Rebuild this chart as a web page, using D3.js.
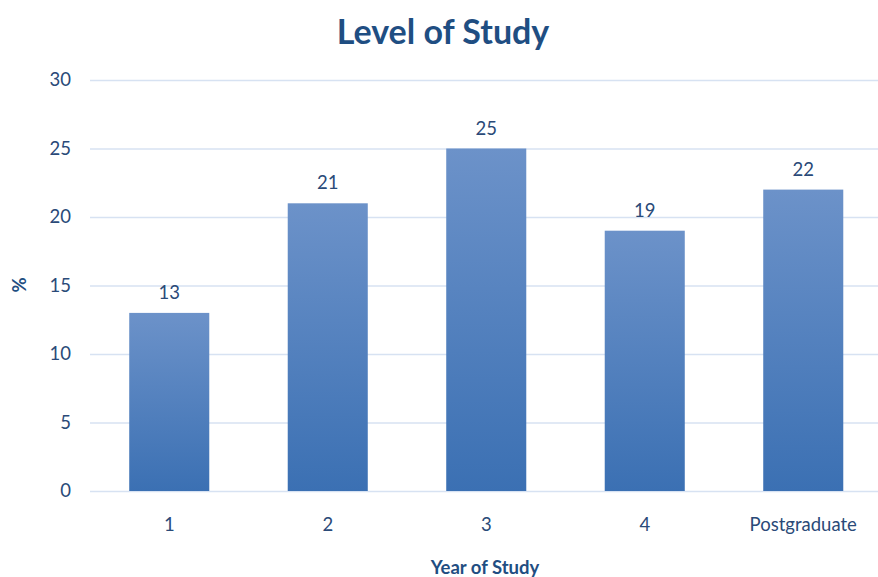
<!DOCTYPE html>
<html><head><meta charset="utf-8">
<script src="https://cdn.jsdelivr.net/npm/d3@7"></script>
<style>
html,body{margin:0;padding:0;background:#fff;}
text{font-family:Lato,"Open Sans",sans-serif;}
</style></head>
<body>
<svg id="chart" width="878" height="577"></svg>
<script>
const categories = ["1","2","3","4","Postgraduate"];
const values = [13,21,25,19,22];
const yTicks = [0,5,10,15,20,25,30];

const svg = d3.select("#chart");
const W = 878, H = 577;
const x = d3.scaleBand().domain(categories).range([90, 882.5]).paddingInner(0.495).paddingOuter(0.2475);
const y = d3.scaleLinear().domain([0,30]).range([491, 80]);

const defs = svg.append("defs");
const grad = defs.append("linearGradient").attr("id","barGrad").attr("x1",0).attr("y1",0).attr("x2",0).attr("y2",1);
grad.append("stop").attr("offset","0%").attr("stop-color","#6C92C9");
grad.append("stop").attr("offset","100%").attr("stop-color","#3B70B3");

const textColor = "#2A4A78";
const fs = 18.5;

// gridlines
svg.append("g").selectAll("line").data(yTicks).join("line")
  .attr("x1",90).attr("x2",W)
  .attr("y1",d=>y(d)+0.5).attr("y2",d=>y(d)+0.5)
  .attr("stroke","#D7E2F2").attr("stroke-width",1.5);

// y tick labels
svg.append("g").selectAll("text").data(yTicks).join("text")
  .attr("x",71).attr("y",d=>y(d)).attr("dy","0.35em")
  .attr("text-anchor","end").attr("font-size",fs).attr("fill",textColor)
  .text(d=>d);

// bars
svg.append("g").selectAll("rect").data(values).join("rect")
  .attr("x",(d,i)=>x(categories[i])).attr("width",x.bandwidth())
  .attr("y",d=>y(d)).attr("height",d=>y(0)-y(d))
  .attr("fill","url(#barGrad)");

// value labels
svg.append("g").selectAll("text").data(values).join("text")
  .attr("x",(d,i)=>x(categories[i])+x.bandwidth()/2).attr("y",d=>y(d)-14)
  .attr("text-anchor","middle").attr("font-size",fs).attr("fill",textColor)
  .text(d=>d);

// x tick labels
svg.append("g").selectAll("text").data(categories).join("text")
  .attr("x",d=>x(d)+x.bandwidth()/2).attr("y",531)
  .attr("text-anchor","middle").attr("font-size",fs).attr("fill",textColor)
  .text(d=>d);

// title
svg.append("text").attr("x",443).attr("y",44).attr("text-anchor","middle")
  .attr("font-size",34).attr("font-weight","bold").attr("fill","#1F4E82")
  .text("Level of Study");

// x axis title
svg.append("text").attr("x",485).attr("y",574).attr("text-anchor","middle")
  .attr("font-size",fs).attr("font-weight","bold").attr("fill","#1F4E82")
  .text("Year of Study");

// y axis title
svg.append("text").attr("transform","translate(26,285) rotate(-90)").attr("text-anchor","middle")
  .attr("font-size",fs).attr("font-weight","bold").attr("fill","#1F4E82")
  .text("%");
</script>
</body></html>
